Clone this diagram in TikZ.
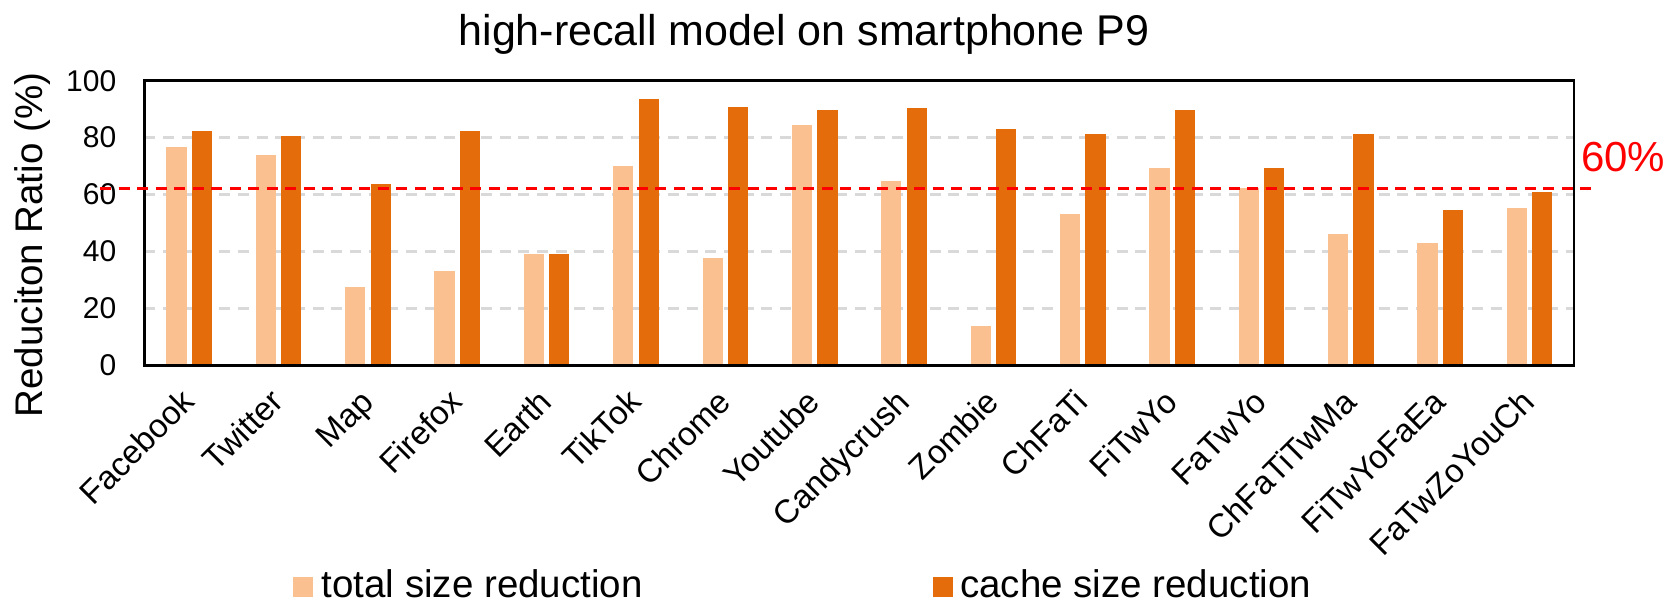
\documentclass[tikz,border=0pt]{standalone}
\usepackage{fontspec}
\setmainfont{Liberation Sans}
\definecolor{lightor}{HTML}{FAC090}
\definecolor{darkor}{HTML}{E46C0A}
\definecolor{gridgray}{HTML}{D9D9D9}
\tikzset{
 lightbar/.style={fill=lightor,draw=none},
 darkbar/.style={fill=darkor,draw=none},
 gridline/.style={draw=gridgray,line width=2.7pt,dash pattern=on 11pt off 7.7pt},
 refline/.style={draw=red,line width=3.2pt,dash pattern=on 11pt off 7.5pt},
 plotframe/.style={draw=black,line width=2.4pt},
 ticklbl/.style={font=\fontsize{30}{36}\selectfont,anchor=east,inner sep=0pt},
 catlbl/.style={font=\fontsize{33}{40}\selectfont,rotate=45,anchor=base east,inner sep=0pt},
 legtext/.style={font=\fontsize{38.5}{46}\selectfont,anchor=base west,inner sep=0pt},
}
\begin{document}
\begin{tikzpicture}[x=1pt,y=-1pt]
\useasboundingbox[fill=white] (0,0) rectangle (1669,601);
% gridlines
\foreach \v in {20,40,60,80}{
  \draw[gridline] (144.3,{365.3-2.846*\v}) -- (1574,{365.3-2.846*\v});
}
% tick labels
\foreach \v in {0,20,40,60,80,100}{
  \node[ticklbl] (tick\v) at (116.5,{365.3-2.846*\v}) {\v};
}
% bars and category labels
\foreach \i/\name/\a/\b in {0/Facebook/76.7/82.3, 1/Twitter/73.8/80.6, 2/Map/27.5/63.8, 3/Firefox/33.1/82.3, 4/Earth/39.1/39.1, 5/TikTok/70.0/93.5, 6/Chrome/37.8/90.6, 7/Youtube/84.6/89.8, 8/Candycrush/64.6/90.4, 9/Zombie/13.7/83.0, 10/ChFaTi/53.3/81.2, 11/FiTwYo/69.4/89.8, 12/FaTwYo/62.2/69.5, 13/ChFaTiTwMa/46.0/81.4, 14/FiTwYoFaEa/43.0/54.5, 15/FaTwZoYouCh/55.3/61.0}{
  \pgfmathsetmacro\c{144.3+89.36*(\i+0.5)}
  \path[lightbar] ({\c-22.6},{365.3-2.846*\a}) rectangle ({\c-2.4},365.3);
  \path[darkbar] ({\c+2.8},{365.3-2.846*\b}) rectangle ({\c+23},365.3);
  \node[catlbl] (cat\i) at ({\c+7.5},404) {\name};
}
% frame
\draw[plotframe] (144.3,80.7) rectangle (1574,365.3);
% reference line
\coordinate (r0) at (100,188.7);
\coordinate (r1) at (1593,188.7);
\draw[refline] (r0) -- (r1);
\node[font=\fontsize{42}{50}\selectfont,text=red,anchor=base west,inner sep=0pt] (ref) at (1581,172) {60\%};
% title
\node[font=\fontsize{43}{50}\selectfont,anchor=base,inner sep=0pt] (title) at (804,46) {high-recall model on smartphone P9};
% y label
\node[rotate=90,anchor=base,font=\fontsize{38.5}{46}\selectfont,inner sep=0pt] (ylabel) at (42.6,245) {Reduciton Ratio (\%)};
% legend
\path[lightbar] (293,577) rectangle (313,597);
\node[legtext] (leg1) at (321.5,597) {total size reduction};
\path[darkbar] (933,577) rectangle (953,597);
\node[legtext] (leg2) at (960,597) {cache size reduction};
\end{tikzpicture}
\end{document}
